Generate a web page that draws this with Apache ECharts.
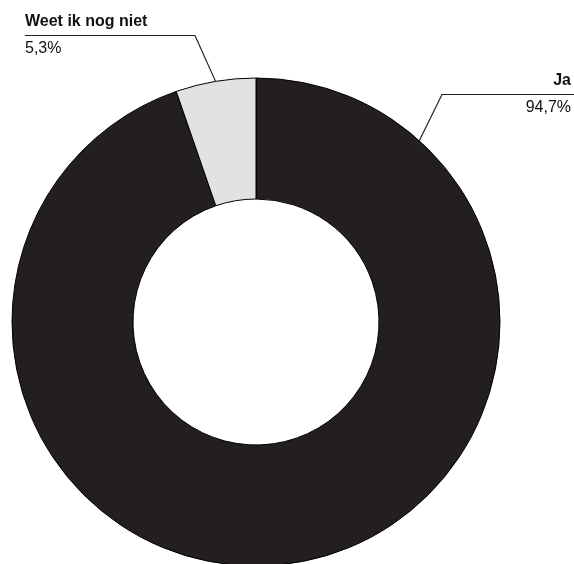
<!DOCTYPE html>
<html>
<head>
<meta charset="utf-8">
<script src="https://cdn.jsdelivr.net/npm/echarts@6/dist/echarts.min.js"></script>
<style>html,body{margin:0;padding:0;background:#fff}#c{width:574px;height:564px}</style>
</head>
<body>
<div id="c"></div>
<script>
const categories = ['Ja', 'Weet ik nog niet'];
const values = [94.7, 5.3];
const colors = ['#231f20', '#e1e2e4'];

const CX = 256, CY = 322, R_IN = 123, R_OUT = 244;
const chart = echarts.init(document.getElementById('c'), null, {renderer: 'canvas'});

function fmtPct(v) { return v.toFixed(1).replace('.', ',') + '%'; }

chart.setOption({
  animation: false,
  backgroundColor: '#fff',
  series: [{
    type: 'pie',
    center: [CX, CY],
    radius: [R_IN, R_OUT],
    startAngle: 90,
    clockwise: true,
    avoidLabelOverlap: false,
    itemStyle: { borderColor: '#000', borderWidth: 1 },
    label: {
      show: true,
      position: 'outside',
      formatter: p => '{n|' + p.name + '}\n{p|' + fmtPct(p.value) + '}',
      rich: {
        n: { fontFamily: 'Liberation Sans, Arial, Helvetica, sans-serif', fontSize: 16, fontWeight: 'bold', color: '#111', lineHeight: 27 },
        p: { fontFamily: 'Liberation Sans, Arial, Helvetica, sans-serif', fontSize: 16, color: '#111', lineHeight: 27 }
      }
    },
    labelLine: { show: true, lineStyle: { color: '#231f20', width: 1.2 } },
    labelLayout: function (params) {
      if (params.dataIndex === 1) {
        const a = params.labelLinePoints ? params.labelLinePoints[0] : [216, 81];
        return {
          x: 25, y: 35.5, align: 'left', verticalAlign: 'middle',
          labelLinePoints: [a, [195, 35.5], [25, 35.5]]
        };
      } else {
        const ang = 42 * Math.PI / 180;
        const a = [CX + R_OUT * Math.sin(ang), CY - R_OUT * Math.cos(ang)];
        return {
          x: 571, y: 94.5, align: 'right', verticalAlign: 'middle',
          labelLinePoints: [a, [442, 94.5], [574, 94.5]]
        };
      }
    },
    data: categories.map((c, i) => ({ name: c, value: values[i], itemStyle: { color: colors[i] } }))
  }]
});
</script>
</body>
</html>
